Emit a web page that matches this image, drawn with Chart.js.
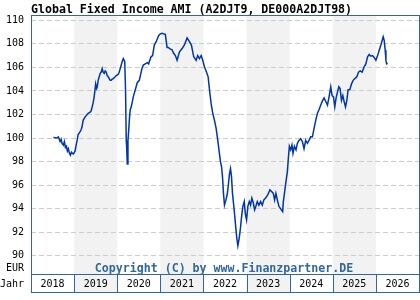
<!DOCTYPE html>
<html lang="de">
<head>
  <meta charset="UTF-8" />
  <title>Global Fixed Income AMI (A2DJT9, DE000A2DJT98)</title>
  <style>
    body { margin: 0; background: #fff; }
    canvas { display: block; }
  </style>
</head>
<body>
  <canvas id="fundChart" width="420" height="300"></canvas>

  <script src="https://cdn.jsdelivr.net/npm/chart.js"></script>
  <script>
    const TITLE = 'Global Fixed Income AMI (A2DJT9, DE000A2DJT98)';
    const COPYRIGHT = 'Copyright (C) by www.Finanzpartner.DE';

    // Datum als Dezimaljahr
    const dates = [
      2018.519, 2018.598, 2018.635, 2018.674, 2018.698, 2018.721, 2018.751, 2018.774, 2018.798, 2018.821,
      2018.844, 2018.867, 2018.891, 2018.914, 2018.937, 2018.960, 2018.984, 2019.023, 2019.047, 2019.070,
      2019.093, 2019.116, 2019.163, 2019.186, 2019.209, 2019.256, 2019.302, 2019.326, 2019.372, 2019.395,
      2019.419, 2019.442, 2019.465, 2019.500, 2019.523, 2019.535, 2019.558, 2019.605, 2019.628, 2019.651,
      2019.674, 2019.698, 2019.721, 2019.744, 2019.767, 2019.791, 2019.837, 2019.860, 2019.884, 2019.907,
      2019.953, 2019.977, 2020.023, 2020.047, 2020.093, 2020.116, 2020.140, 2020.174, 2020.193, 2020.209,
      2020.221, 2020.233, 2020.249, 2020.267, 2020.286, 2020.302, 2020.326, 2020.372, 2020.419, 2020.465,
      2020.512, 2020.574, 2020.605, 2020.651, 2020.698, 2020.728, 2020.784, 2020.821, 2020.860, 2020.907,
      2020.960, 2021.000, 2021.040, 2021.077, 2021.116, 2021.156, 2021.186, 2021.216, 2021.272, 2021.309,
      2021.349, 2021.388, 2021.442, 2021.505, 2021.558, 2021.621, 2021.658, 2021.721, 2021.774, 2021.830,
      2021.867, 2021.907, 2021.947, 2021.984, 2022.023, 2022.070, 2022.109, 2022.140, 2022.179, 2022.216,
      2022.256, 2022.295, 2022.333, 2022.356, 2022.395, 2022.419, 2022.442, 2022.465, 2022.488, 2022.519,
      2022.551, 2022.574, 2022.605, 2022.628, 2022.651, 2022.674, 2022.705, 2022.728, 2022.751, 2022.774,
      2022.798, 2022.830, 2022.860, 2022.884, 2022.914, 2022.947, 2022.970, 2023.000, 2023.030, 2023.063,
      2023.093, 2023.123, 2023.156, 2023.186, 2023.216, 2023.249, 2023.286, 2023.326, 2023.365, 2023.402,
      2023.442, 2023.495, 2023.542, 2023.581, 2023.621, 2023.651, 2023.681, 2023.714, 2023.751, 2023.807,
      2023.837, 2023.853, 2023.884, 2023.914, 2023.947, 2023.970, 2023.993, 2024.023, 2024.053, 2024.077,
      2024.109, 2024.147, 2024.179, 2024.216, 2024.256, 2024.295, 2024.333, 2024.372, 2024.412, 2024.449,
      2024.488, 2024.528, 2024.565, 2024.605, 2024.644, 2024.681, 2024.721, 2024.760, 2024.798, 2024.837,
      2024.877, 2024.914, 2024.953, 2024.984, 2025.016, 2025.047, 2025.077, 2025.109, 2025.140, 2025.170,
      2025.202, 2025.233, 2025.263, 2025.295, 2025.326, 2025.356, 2025.395, 2025.435, 2025.472, 2025.512,
      2025.558, 2025.598, 2025.635, 2025.681, 2025.728, 2025.767, 2025.807, 2025.844, 2025.884, 2025.923,
      2025.960, 2026.000, 2026.040, 2026.077, 2026.116, 2026.147, 2026.170, 2026.193, 2026.216, 2026.233,
      2026.249, 2026.272
    ];

    // Kurs in EUR
    const prices = [
      100.05, 100.0, 100.1, 99.7, 99.9, 99.55, 99.4, 99.7, 99.2, 99.3,
      98.9, 99.1, 98.7, 98.55, 98.8, 98.7, 98.65, 98.9, 99.4, 99.8,
      100.3, 100.4, 100.7, 101.0, 101.5, 101.8, 102.0, 102.1, 102.2, 102.3,
      102.65, 103.0, 103.5, 104.6, 104.2, 104.3, 104.9, 105.5, 105.6, 105.9,
      105.6, 105.5, 105.7, 105.6, 105.3, 105.2, 104.9, 104.9, 105.0, 105.05,
      105.2, 105.3, 105.4, 105.6, 106.2, 106.5, 106.75, 106.5, 104.1, 99.8,
      99.1, 97.8, 99.8, 100.7, 101.8, 102.4, 102.65, 103.5, 104.1, 104.7,
      104.9, 105.9, 106.2, 106.3, 106.4, 106.3, 106.9, 107.0, 107.9, 108.2,
      108.7, 108.85, 108.9, 108.85, 108.8, 107.7, 107.7, 107.6, 107.5, 107.2,
      107.0, 106.6, 107.3, 107.6, 107.9, 108.5, 108.3, 107.9, 106.9, 106.6,
      107.0, 106.75, 107.0, 106.6, 106.05, 105.6, 105.2, 104.1, 102.9, 102.1,
      101.5, 100.8, 99.8, 99.1, 98.0, 97.6, 96.7, 95.3, 94.3, 94.7,
      95.2, 95.9, 97.0, 97.4, 96.7, 95.3, 94.2, 93.3, 92.35, 91.5,
      90.85, 91.5, 92.4, 93.3, 94.2, 94.6, 93.6, 93.05, 94.2, 94.6,
      94.3, 94.9, 94.5, 93.9, 94.2, 94.6, 94.3, 94.6, 94.3, 94.75,
      94.9, 95.2, 95.6, 95.45, 95.3, 94.75, 95.3, 94.75, 94.2, 93.9,
      93.75, 94.6, 95.45, 96.3, 97.15, 98.3, 99.3, 99.0, 99.4, 98.7,
      99.3, 99.0, 99.55, 99.8, 99.95, 99.7, 99.1, 99.8, 99.55, 99.8,
      100.1, 100.1, 100.8, 101.5, 102.1, 102.4, 102.8, 103.15, 103.4, 103.1,
      102.8, 103.5, 104.35, 103.6, 103.5, 102.65, 103.4, 103.9, 104.35, 104.2,
      103.2, 103.6, 103.1, 102.65, 103.2, 104.1, 104.1, 104.6, 104.9, 105.05,
      105.2, 105.6, 105.7, 105.6, 106.05, 106.3, 106.9, 107.1, 106.95, 107.0,
      106.85, 106.6, 107.0, 107.45, 107.9, 108.3, 108.6, 108.3, 107.45, 106.6,
      106.3, 106.35
    ];

    const yearLabels = [2018, 2019, 2020, 2021, 2022, 2023, 2024, 2025, 2026];
    const priceTicks = [90, 92, 94, 96, 98, 100, 102, 104, 106, 108, 110];

    const FRAME = '#336699';
    const ROW_BOTTOM = 292;

    const decor = {
      id: 'decor',
      beforeDraw(chart) {
        const ctx = chart.ctx;
        const a = chart.chartArea;
        const xs = chart.scales.x;
        ctx.save();
        ctx.fillStyle = '#f2f2f2';
        yearLabels.forEach((yr, i) => {
          if(i % 2 === 1) {
            const x0 = xs.getPixelForValue(yr);
            const x1 = xs.getPixelForValue(yr + 1);
            ctx.fillRect(x0, a.top, x1 - x0, ROW_BOTTOM - a.top);
          }
        });
        ctx.restore();
      },
      afterDraw(chart) {
        const ctx = chart.ctx;
        const a = chart.chartArea;
        const xs = chart.scales.x;
        ctx.save();

        // Rahmen + Jahreszeile
        ctx.strokeStyle = FRAME;
        ctx.lineWidth = 1;
        ctx.strokeRect(Math.round(a.left) + 0.5, Math.round(a.top) + 0.5,
          Math.round(a.right - a.left), ROW_BOTTOM - Math.round(a.top));
        ctx.beginPath();
        ctx.moveTo(a.left, Math.round(a.bottom) + 0.5);
        ctx.lineTo(a.right, Math.round(a.bottom) + 0.5);
        yearLabels.forEach((yr, i) => {
          if(i === 0) return;
          const x = Math.round(xs.getPixelForValue(yr)) + 0.5;
          ctx.moveTo(x, a.bottom);
          ctx.lineTo(x, ROW_BOTTOM);
        });
        ctx.stroke();

        ctx.fillStyle = '#000';
        ctx.font = '10px "DejaVu Sans Mono"';
        ctx.textBaseline = 'alphabetic';
        ctx.textAlign = 'center';
        yearLabels.forEach(yr => {
          const xc = (xs.getPixelForValue(yr) + xs.getPixelForValue(yr + 1)) / 2;
          ctx.fillText(String(yr), xc, 287);
        });
        ctx.textAlign = 'right';
        ctx.fillText('Jahr', 24, 287);
        ctx.fillText('EUR', 24, 271);

        ctx.font = 'bold 11.6px "DejaVu Sans Mono"';
        ctx.textAlign = 'left';
        ctx.fillText(TITLE, 31, 13);

        ctx.fillStyle = FRAME;
        ctx.textAlign = 'center';
        ctx.fillText(COPYRIGHT, 224, 272);
        ctx.restore();
      }
    };

    const ctx = document.getElementById('fundChart').getContext('2d');
    new Chart(ctx, {
      type: 'line',
      data: {
        datasets: [{
          data: dates.map((d, i) => ({ x: d, y: prices[i] })),
          borderColor: '#0036a6',
          borderWidth: 1.5,
          pointRadius: 0,
          tension: 0,
          fill: false
        }]
      },
      options: {
        animation: false,
        responsive: false,
        devicePixelRatio: 1,
        layout: { padding: { left: 0, right: 1, top: 15, bottom: 26 } },
        plugins: {
          legend: { display: false },
          tooltip: { enabled: false }
        },
        scales: {
          x: {
            type: 'linear',
            min: 2018,
            max: 2027,
            display: false
          },
          y: {
            type: 'linear',
            min: 88.45,
            max: 110.45,
            afterBuildTicks(scale) {
              scale.ticks = priceTicks.map(v => ({ value: v }));
            },
            afterFit(scale) {
              scale.width = 31;
            },
            ticks: {
              color: '#000',
              padding: 7,
              font: { family: 'DejaVu Sans Mono', size: 10 }
            },
            grid: { color: '#cccccc', drawTicks: false },
            border: { display: false, dash: [5, 3] }
          }
        }
      },
      plugins: [decor]
    });
  </script>
</body>
</html>
